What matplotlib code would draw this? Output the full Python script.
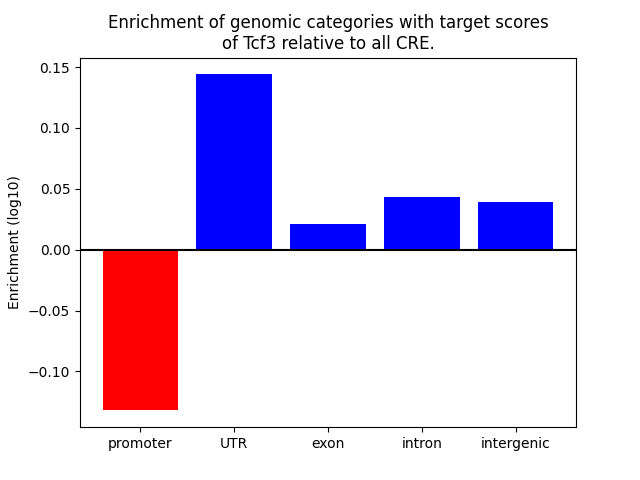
import matplotlib
matplotlib.use('Agg')
import matplotlib.pyplot as plt

categories = ['promoter', 'UTR', 'exon', 'intron', 'intergenic']
enrichment = [-0.132, 0.144, 0.0215, 0.0437, 0.0388]

colors = ['red' if v < 0 else 'blue' for v in enrichment]

fig, ax = plt.subplots(figsize=(6.4, 4.8), dpi=100)
ax.bar(range(len(categories)), enrichment, color=colors)
ax.axhline(0, color='black')
ax.set_xticks(range(len(categories)))
ax.set_xticklabels(categories)
ax.set_ylabel('Enrichment (log10)')
ax.set_title('Enrichment of genomic categories with target scores\nof Tcf3 relative to all CRE.')

plt.savefig('out.png', dpi=100)
plt.close()
